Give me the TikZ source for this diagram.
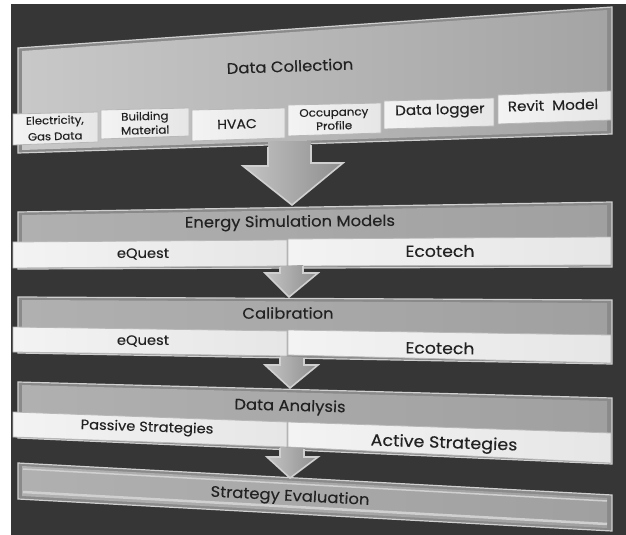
\documentclass[tikz,border=0pt]{standalone}
\usepackage{fontspec}
\setmainfont{Poppins}[FakeStretch=1.08, FakeBold=0.25]
\usetikzlibrary{calc}
\definecolor{bgdark}{HTML}{363636}
\definecolor{framegray}{HTML}{8A8A8A}
\definecolor{framelight}{HTML}{D0D0D0}
\definecolor{boxAL}{HTML}{C8C8C8}
\definecolor{boxAR}{HTML}{A4A4A4}
\definecolor{hdrL}{HTML}{B0B0B0}
\definecolor{hdrR}{HTML}{A0A0A0}
\definecolor{cellL}{HTML}{F3F3F3}
\definecolor{cellR}{HTML}{E6E6E6}
\definecolor{cellborder}{HTML}{B8B8B8}
\definecolor{arrL}{HTML}{C4C4C4}
\definecolor{arrM}{HTML}{B2B2B2}
\definecolor{arrR}{HTML}{8E8E8E}
\definecolor{txt}{HTML}{222222}
% #1 x left, #2 y top-left, #3 x right, #4 y top-right, #5 y bottom-right, #6 y bottom-left, #7 left colour, #8 right colour
\newcommand{\bevelbox}[8]{%
  \fill[framegray] (#1,#2) -- (#3,#4) -- (#3,#5) -- (#1,#6) -- cycle;
  \shade[left color=#7, right color=#8] ($(#1,#2)+(4,3)$) -- ($(#3,#4)+(-5,3)$) -- ($(#3,#5)+(-5,-3)$) -- ($(#1,#6)+(4,-3)$) -- cycle;
  \draw[line width=1.2, framelight] (#1,#2) -- (#3,#4) -- (#3,#5) -- (#1,#6) -- cycle;
}
\newcommand{\cellbox}[6]{%
  \shade[left color=cellL, right color=cellR] (#1,#2) -- (#3,#4) -- (#3,#5) -- (#1,#6) -- cycle;
  \draw[line width=0.8, cellborder] (#1,#2) -- (#3,#4) -- (#3,#5) -- (#1,#6) -- cycle;
}
\tikzset{
  title/.style={text=txt, font=\fontsize{15.2}{17}\selectfont, inner sep=0pt},
  celltext/.style={text=txt, font=\fontsize{13.6}{15}\selectfont, inner sep=0pt, align=center},
  smalltext/.style={text=txt, font=\fontsize{10.8}{14}\selectfont, inner sep=0pt, align=center},
  arrowshape/.style={left color=arrL, middle color=arrM, right color=arrR},
  arrowedge/.style={draw=framelight, line width=1.6, line join=miter},
}
\begin{document}
\begin{tikzpicture}[x=1pt,y=-1pt]
\useasboundingbox (0,0) rectangle (626,535);
\fill[white] (0,0) rectangle (626,535);
\fill[bgdark] (11,4) rectangle (626,535);

% ---------- Box 1: Data Collection ----------
\bevelbox{18}{48}{612}{7}{134}{153}{boxAL}{boxAR}
\node[title, rotate=2] (dc) at (290,66) {Data Collection};
\cellbox{13}{114}{98}{112}{142}{145}
\cellbox{101}{110}{189}{108}{136}{139}
\cellbox{192}{110}{285}{108}{138}{141}
\cellbox{288}{105}{381}{103}{133}{136}
\cellbox{384}{101}{494}{98}{126}{129}
\cellbox{498}{95}{611}{91}{120}{124}
\node[smalltext, font=\fontsize{10.8}{16}\selectfont, rotate=1.5] (elec) at (55,128) {Electricity,\\Gas Data};
\node[smalltext, font=\fontsize{11}{14}\selectfont, rotate=1.5] (bm) at (145,123) {Building\\Material};
\node[smalltext, font=\fontsize{13}{14}\selectfont, rotate=1.5] (hvac) at (237,124) {HVAC};
\node[smalltext, font=\fontsize{11}{13.5}\selectfont, rotate=1.5] (occ) at (334,119) {Occupancy\\Profile};
\node[smalltext, font=\fontsize{14}{14}\selectfont, rotate=1.5] (dl) at (440,111) {Data logger};
\node[smalltext, font=\fontsize{14}{14}\selectfont, rotate=1.5] (rm) at (553,105) {Revit\ \ Model};

% ---------- Box 2: Energy Simulation Models ----------
\bevelbox{18}{212}{612}{202}{267}{269}{hdrL}{hdrR}
\node[title, rotate=0.5] (esm) at (290,223) {Energy Simulation Models};
\cellbox{13}{242}{287}{240}{266}{268}
\cellbox{288}{239}{611}{237}{265}{266}
\node[celltext] (eq1) at (143,254) {eQuest};
\node[celltext, font=\fontsize{16}{17}\selectfont] (ec1) at (440,251) {Ecotech};

% ---------- Box 3: Calibration ----------
\bevelbox{18}{297}{612}{300}{364}{353}{hdrL}{hdrR}
\node[title] (cal) at (288,313) {Calibration};
\cellbox{13}{327}{287}{331}{356}{352}
\cellbox{288}{330}{611}{335}{363}{355}
\node[celltext] (eq2) at (143,341) {eQuest};
\node[celltext, font=\fontsize{16}{17}\selectfont, rotate=-0.8] (ec2) at (440,348) {Ecotech};

% ---------- Box 4: Data Analysis ----------
\bevelbox{18}{382}{612}{398}{464}{438}{hdrL}{hdrR}
\node[title, rotate=-1.5] (da) at (290,407) {Data Analysis};
\cellbox{13}{412}{287}{422}{447}{437}
\cellbox{288}{422}{611}{433}{463}{447}
\node[celltext, rotate=-2] (ps) at (147,428) {Passive Strategies};
\node[celltext, font=\fontsize{16.2}{17}\selectfont, rotate=-2] (as) at (444,444) {Active Strategies};

% ---------- Box 5: Strategy Evaluation ----------
\bevelbox{18}{463}{612}{495}{531}{499}{hdrL}{hdrR}
\draw[framelight, line width=1.5] (23,469) -- (607,501);
\draw[framelight, line width=2.5] (23,492) -- (607,524);
\node[title, rotate=-3] (se) at (290,497) {Strategy Evaluation};

% ---------- Arrows ----------
\path[arrowshape] (268,141) -- (268,166) -- (243,166) -- (292,205) -- (343,163) -- (311,163) -- (311,141) -- cycle;
\draw[arrowedge] (268,147) -- (268,166) -- (243,166) -- (292,205) -- (343,163) -- (311,163) -- (311,145);

\path[arrowshape] (280,266) -- (280,273) -- (265,273) -- (289,297) -- (318,273) -- (303,273) -- (303,265) -- cycle;
\draw[arrowedge] (280,267) -- (280,273) -- (265,273) -- (289,297) -- (318,273) -- (303,273) -- (303,266);

\path[arrowshape] (280,356) -- (280,365) -- (265,365) -- (290,388) -- (318,365) -- (304,365) -- (304,357) -- cycle;
\draw[arrowedge] (280,357) -- (280,365) -- (265,365) -- (290,388) -- (318,365) -- (304,365) -- (304,358);

\path[arrowshape] (280,447) -- (280,457) -- (267,457) -- (290,478) -- (318,457) -- (304,457) -- (304,448) -- cycle;
\draw[arrowedge] (280,448) -- (280,457) -- (267,457) -- (290,478) -- (318,457) -- (304,457) -- (304,449);
\end{tikzpicture}
\end{document}
